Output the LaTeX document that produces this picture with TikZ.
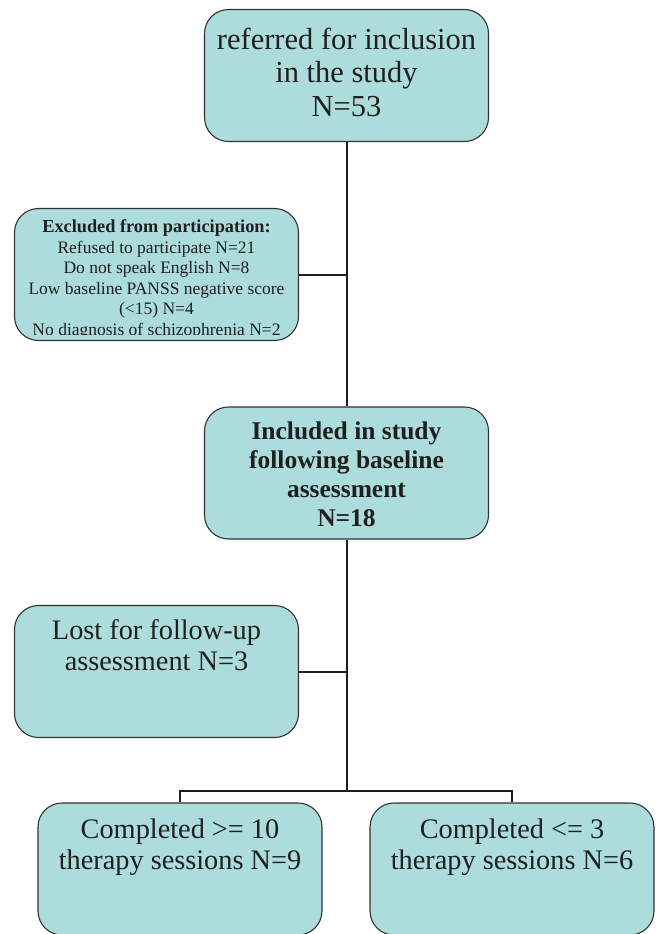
\documentclass[tikz,border=0pt]{standalone}
\usepackage{fontspec}
\setmainfont{Liberation Serif}
\definecolor{boxfill}{RGB}{172,220,220}
\definecolor{boxline}{RGB}{50,50,50}
\definecolor{conn}{RGB}{30,30,30}
\begin{document}
\begin{tikzpicture}[x=1pt,y=-1pt,
  box/.style={draw=boxline,line width=1.1pt,fill=boxfill,rounded corners=24pt,
    minimum width=284pt,minimum height=132pt,inner sep=0pt},
  txt/.style={align=center,inner sep=0pt,text=black!88},
  link/.style={draw=conn,line width=2pt}]
\useasboundingbox (0,0) rectangle (657,934);
% boxes
\node[box,path picture={
  \clip ([yshift=6pt]path picture bounding box.south west) rectangle (path picture bounding box.north east);
  \node[txt,font=\fontsize{17.5}{20.6}\selectfont,yshift=-5pt] (excltxt) at (path picture bounding box.center)
  {{\fontsize{18.3}{20.6}\selectfont\bfseries Excluded from participation:}\\
   Refused to participate N=21\\ Do not speak English N=8\\
   Low baseline PANSS negative score\\ (<15) N=4\\ No diagnosis of schizophrenia N=2};}] (excl) at (156.5,274.5) {};
\node[box] (top) at (346.5,75.5) {};
\node[box] (incl) at (346.5,473) {};
\node[box] (lost) at (156.5,671.5) {};
\node[box] (left) at (180,869) {};
\node[box] (right) at (512,869) {};
% texts
\node[txt,font=\fontsize{30.5}{33.5}\selectfont] (toptxt) at (346.5,72)
  {referred for inclusion\\ in the study\\ N=53};
\node[txt,font=\fontsize{25.5}{29}\selectfont\bfseries] (incltxt) at (346.5,474)
  {Included in study\\ following baseline\\ assessment\\ N=18};
\node[txt,font=\fontsize{28.3}{30.5}\selectfont] (losttxt) at (156.5,645)
  {Lost for follow-up\\ assessment N=3};
\node[txt,font=\fontsize{28.3}{31}\selectfont] (lefttxt) at (180,847)
  {Completed >= 10\\ therapy sessions N=9};
\node[txt,font=\fontsize{28.3}{31}\selectfont] (righttxt) at (512,847)
  {Completed <= 3\\ therapy sessions N=6};
% connectors
\coordinate (split) at (346.5,791);
\path[link] (top.south) -- (incl.north);
\path[link] (excl.east) -- (excl.east -| top.south);
\path[link] (incl.south) -- (split);
\path[link] (lost.east) -- (lost.east -| incl.south);
\path[link] (left.north) |- (split) -| (right.north);
\end{tikzpicture}
\end{document}
